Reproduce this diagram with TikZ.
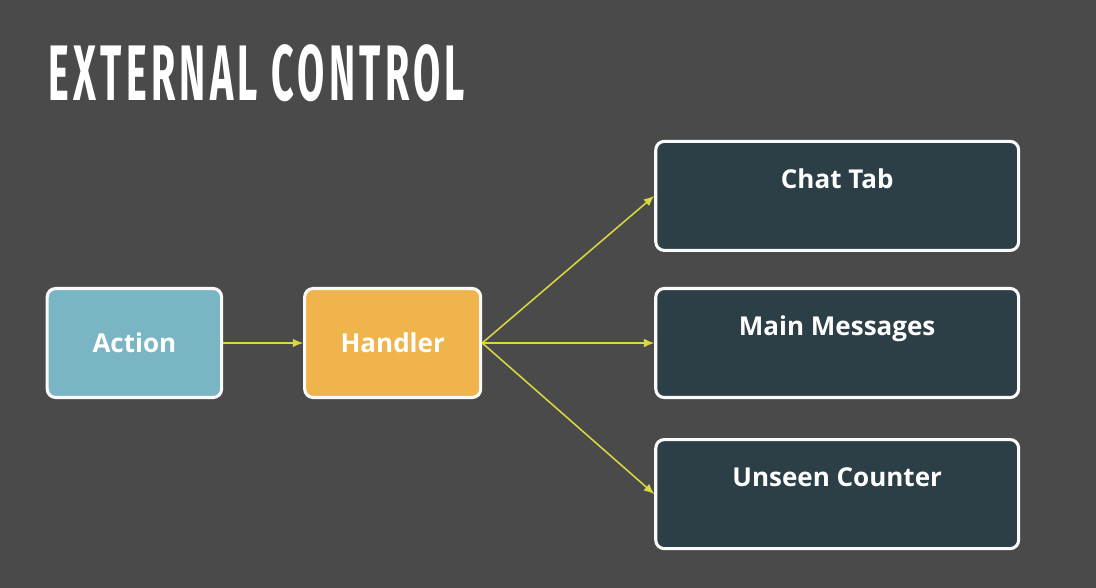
\documentclass[tikz,border=0pt]{standalone}
\usepackage{fontspec}
\setsansfont{Open Sans}
\newfontfamily\titlefont[FakeStretch=0.5,LetterSpace=5.5]{Fira Sans}
\usetikzlibrary{arrows.meta,positioning}
\definecolor{slidebg}{RGB}{74,74,74}
\definecolor{boxedge}{RGB}{250,250,250}
\definecolor{actfill}{RGB}{122,181,196}
\definecolor{hdlfill}{RGB}{240,180,76}
\definecolor{viewfill}{RGB}{44,62,70}
\definecolor{flow}{RGB}{216,216,64}
\tikzset{
  slidebox/.style={
    draw=boxedge, line width=2.2pt, rounded corners=6pt,
    align=center, text=white, font=\sffamily\bfseries\fontsize{18.5}{22}\selectfont,
    minimum height=2.725cm
  },
  act/.style={slidebox, fill=actfill, minimum width=4.36cm},
  hdl/.style={slidebox, fill=hdlfill, minimum width=4.4cm},
  view/.style={slidebox, fill=viewfill, minimum width=9.07cm,
    inner ysep=0pt, text height=1.17cm, text depth=1.555cm},
  arr/.style={-{Latex[length=2.6mm,width=2.2mm]}, draw=flow, line width=1.1pt},
  every picture/.append style={line join=round}
}
\begin{document}
\begin{tikzpicture}
  \fill[slidebg] (0,0) rectangle (27.4,-14.7);
  \useasboundingbox (0,0) rectangle (27.4,-14.7);
  \node[anchor=north west, text=white, inner sep=0pt,
    font=\titlefont\bfseries\fontsize{56}{60}\selectfont] (title) at (1.2,-1.1) {EXTERNAL CONTROL};
  \node[act] (action) at (3.36,-8.575) {Action};
  \node[hdl, right=2.0cm of action] (handler) {Handler};
  \node[view, right=4.3cm of handler] (main) {Main Messages};
  \node[view, above=0.875cm of main] (chat) {Chat Tab};
  \node[view, below=0.975cm of main] (unseen) {Unseen Counter};
  \draw[arr] (action) -- (handler);
  \draw[arr] (handler.east) -- (chat.west);
  \draw[arr] (handler.east) -- (main.west);
  \draw[arr] (handler.east) -- (unseen.west);
\end{tikzpicture}
\end{document}
